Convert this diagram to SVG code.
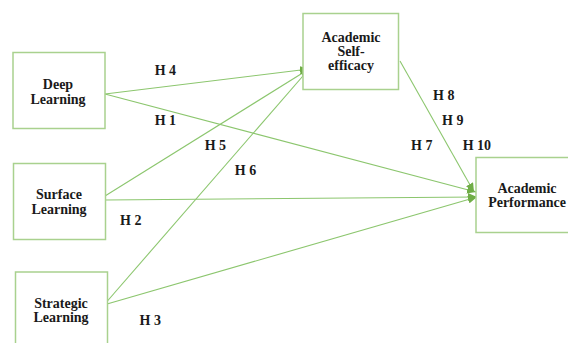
<svg xmlns="http://www.w3.org/2000/svg" width="568" height="343" viewBox="0 0 568 343">
<style>
.box{fill:#fff;stroke:#a9d18e;stroke-width:1.5}
.t{font-family:"Liberation Serif","Times New Roman",serif;font-weight:bold;font-size:14px;fill:#1a1a1a;text-anchor:middle}
.h{font-family:"Liberation Serif","Times New Roman",serif;font-weight:bold;font-size:14px;fill:#1a1a1a}
.c{fill:none;stroke:#8cc66e;stroke-width:1.1}
</style>
<defs>
<marker id="ah" markerUnits="userSpaceOnUse" markerWidth="10" markerHeight="8" refX="9" refY="4" orient="auto">
<path d="M0,0 L9,4 L0,8 Z" fill="#70ad47"/>
</marker>
</defs>
<rect width="568" height="343" fill="#fff"/>
<g id="connectors">
<path class="c" d="M105,94 L309,69" marker-end="url(#ah)"/>
<path class="c" d="M105,196 L309,69" marker-end="url(#ah)"/>
<path class="c" d="M107,301.5 L309,69" marker-end="url(#ah)"/>
<path class="c" d="M105,94 L476,192" marker-end="url(#ah)"/>
<path class="c" d="M105,200 L477,197" marker-end="url(#ah)"/>
<path class="c" d="M107,304 L477,197" marker-end="url(#ah)"/>
<path class="c" d="M400,61 L474,192" marker-end="url(#ah)"/>
</g>
<g id="deep">
<rect class="box" x="13" y="52.5" width="92" height="76"/>
<text class="t" x="58" y="88.5">Deep</text>
<text class="t" x="58" y="103.5">Learning</text>
</g>
<g id="surface">
<rect class="box" x="13.5" y="163.5" width="92" height="76"/>
<text class="t" x="59" y="199.3">Surface</text>
<text class="t" x="59" y="214.3">Learning</text>
</g>
<g id="strategic">
<rect class="box" x="15.5" y="272" width="92" height="80"/>
<text class="t" x="61" y="307.6">Strategic</text>
<text class="t" x="61" y="321.6">Learning</text>
</g>
<g id="selfefficacy">
<rect class="box" x="303" y="13.5" width="95.5" height="76"/>
<text class="t" x="351" y="41.6">Academic</text>
<text class="t" x="351" y="56">Self-</text>
<text class="t" x="351" y="70">efficacy</text>
</g>
<g id="performance">
<rect class="box" x="476" y="157.5" width="100" height="75"/>
<text class="t" x="527" y="193">Academic</text>
<text class="t" x="527" y="207">Performance</text>
</g>
<g id="labels">
<text class="h" x="154.7" y="75">H 4</text>
<text class="h" x="154.7" y="125.3">H 1</text>
<text class="h" x="204.7" y="150.3">H 5</text>
<text class="h" x="234.8" y="175.3">H 6</text>
<text class="h" x="120" y="225.3">H 2</text>
<text class="h" x="139.5" y="324.6">H 3</text>
<text class="h" x="433" y="100.3">H 8</text>
<text class="h" x="442" y="125.3">H 9</text>
<text class="h" x="411" y="149.6">H 7</text>
<text class="h" x="462.7" y="149.6">H 10</text>
</g>
</svg>
